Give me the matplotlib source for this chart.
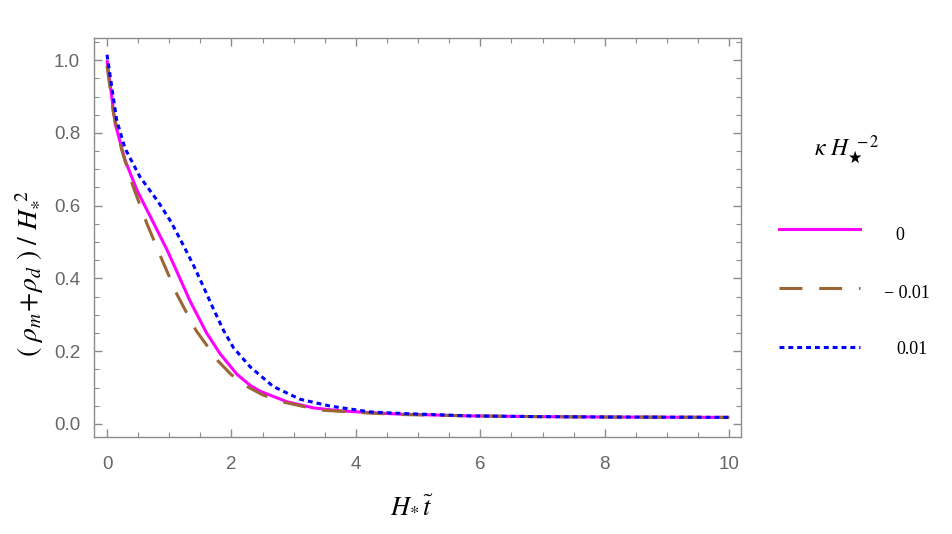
import numpy as np
import matplotlib
matplotlib.use('Agg')
from matplotlib import pyplot as plt
from matplotlib.lines import Line2D
from matplotlib.ticker import MultipleLocator

plt.rcParams['font.family'] = ['Liberation Sans', 'DejaVu Sans']
plt.rcParams['mathtext.fontset'] = 'stix'

# values
# kappa H*^-2 = 0 (solid magenta)
x_k0 = [0, 0.13, 0.29, 0.48, 0.69, 0.96, 1.093, 1.334, 1.6, 1.817, 2.085, 2.3, 2.46,
        2.89, 3.32, 3.75, 4.23, 4.7, 5.84, 7, 8, 9, 10]
y_k0 = [1.0, 0.826, 0.725, 0.643, 0.572, 0.48, 0.43, 0.338, 0.25, 0.193, 0.137, 0.106, 0.09,
        0.061, 0.044, 0.036, 0.031, 0.027, 0.022, 0.02, 0.019, 0.0185, 0.018]

# kappa H*^-2 = -0.01 (dashed brown)
x_km = [0, 0.1, 0.236, 0.42, 0.64, 0.884, 1.13, 1.43, 1.79, 2.0, 2.25, 2.5, 2.81,
        3.42, 4.2, 4.7, 5.84, 7, 8, 9, 10]
y_km = [0.985, 0.858, 0.753, 0.652, 0.551, 0.451, 0.354, 0.257, 0.172, 0.135, 0.103, 0.08, 0.061,
        0.038, 0.03, 0.026, 0.022, 0.02, 0.019, 0.0185, 0.018]

# kappa H*^-2 = 0.01 (dotted blue)
x_kp = [0, 0.155, 0.29, 0.53, 0.825, 1.03, 1.23, 1.39, 1.55, 1.71, 1.87, 2.03, 2.3,
        2.67, 3.1, 3.585, 4.23, 4.7, 5.84, 7, 8, 9, 10]
y_kp = [1.015, 0.835, 0.757, 0.679, 0.61, 0.555, 0.49, 0.436, 0.377, 0.316, 0.258, 0.21, 0.157,
        0.103, 0.068, 0.049, 0.033, 0.029, 0.022, 0.02, 0.019, 0.0185, 0.018]

legend_labels = ['0', '\u2212 0.01', '0.01']
colors = ['#ff00ff', '#9b6634', '#0000ff']

fig = plt.figure(figsize=(9.53, 5.34), dpi=100)
ax = fig.add_axes([0.0986, 0.1816, 0.679, 0.748])

lw = 2.2
ax.plot(x_k0, y_k0, color=colors[0], lw=lw, solid_capstyle='butt')
ax.plot(x_km, y_km, color=colors[1], lw=lw, dashes=(7.5, 5.5))
ax.plot(x_kp, y_kp, color=colors[2], lw=lw, dashes=(1.6, 1.3))

ax.set_xlim(-0.21, 10.19)
ax.set_ylim(-0.036, 1.062)
ax.xaxis.set_major_locator(MultipleLocator(2))
ax.xaxis.set_minor_locator(MultipleLocator(0.5))
ax.yaxis.set_minor_locator(MultipleLocator(0.05))
ax.set_yticks([0.0, 0.2, 0.4, 0.6, 0.8, 1.0])
ax.set_yticklabels(['0.0', '0.2', '0.4', '0.6', '0.8', '1.0'])

for sp in ax.spines.values():
    sp.set_color('#8c8c8c')
    sp.set_linewidth(1.0)
ax.tick_params(which='both', direction='in', top=True, right=True, colors='#8c8c8c',
               labelcolor='#666666', labelsize=13.5)
ax.tick_params(which='major', length=6, width=1.0)
ax.tick_params(which='minor', length=3.5, width=0.8)
ax.tick_params(axis='x', pad=14)
ax.tick_params(axis='y', pad=10)

fig.text(0.432, 0.054, r'$H_{*}\,\tilde{t}$', fontsize=19, ha='center', va='center')
fig.text(0.031, 0.487, r'$(\ \rho_m\!+\!\rho_d\ )\ /\ H_{*}^{\ 2}$', fontsize=20,
         rotation=90, ha='center', va='center')

# legend, drawn by hand like the reference
W, H = 953.0, 534.0
fig.text(847 / W, 1 - 150 / H, r'$\kappa\ H_{\bigstar}^{\ -2}$', fontsize=17,
         ha='center', va='center')
leg_y = [229.3, 288.3, 346.7]
styles = [dict(), dict(dashes=(7.5, 5.5)), dict(dashes=(1.6, 1.3))]
label_x = [900, 907, 912]
label_y = [236, 293, 350]
for i in range(3):
    fig.add_artist(Line2D([779 / W, 860 / W], [1 - leg_y[i] / H, 1 - leg_y[i] / H],
                          color=colors[i], lw=lw, transform=fig.transFigure, **styles[i]))
    fig.text(label_x[i] / W, 1 - label_y[i] / H, legend_labels[i], fontsize=13,
             family='Liberation Serif', ha='center', va='center')

plt.savefig('out.png', dpi=100)
